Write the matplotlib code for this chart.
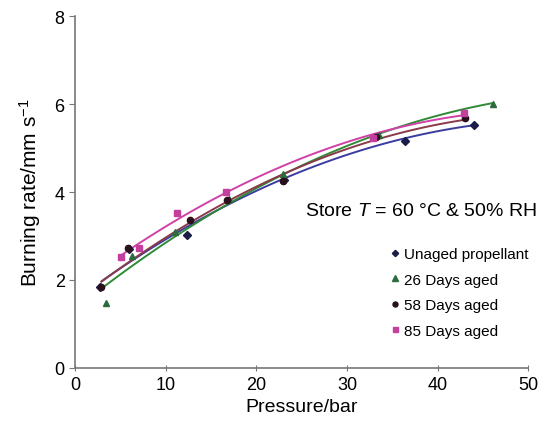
import numpy as np
from matplotlib import pyplot as plt

plt.rcParams['font.family'] = ['Liberation Sans', 'DejaVu Sans']
plt.rcParams['mathtext.fontset'] = 'custom'
plt.rcParams['mathtext.it'] = 'Liberation Sans:italic'
plt.rcParams['mathtext.rm'] = 'Liberation Sans'

p_unaged = [2.8, 5.9, 12.4, 23.0, 36.4, 44.0]
r_unaged = [1.85, 2.70, 3.02, 4.27, 5.17, 5.52]
p_26 = [3.4, 6.3, 11.0, 17.0, 22.9, 33.5, 46.1]
r_26 = [1.48, 2.55, 3.10, 3.85, 4.41, 5.30, 6.01]
p_58 = [2.9, 5.8, 12.7, 16.8, 22.9, 33.2, 43.0]
r_58 = [1.85, 2.73, 3.36, 3.82, 4.26, 5.25, 5.68]
p_85 = [5.1, 7.0, 11.3, 16.7, 32.9, 42.9]
r_85 = [2.52, 2.72, 3.52, 4.00, 5.23, 5.80]

# trend lines at a few pressures
tp_unaged = [2.95, 8.3, 11.6, 24.8, 37.0, 44.2]
tr_unaged = [1.98, 2.67, 3.15, 4.48, 5.20, 5.55]
tp_26 = [3.3, 8.3, 11.6, 24.8, 37.0, 46.1]
tr_26 = [1.87, 2.55, 3.15, 4.51, 5.62, 6.00]
tp_58 = [2.9, 11.6, 24.8, 37.0, 43.0]
tr_58 = [1.92, 3.25, 4.52, 5.39, 5.66]
tp_85 = [5.15, 11.6, 24.8, 37.0, 43.0]
tr_85 = [2.52, 3.50, 4.71, 5.51, 5.77]

series = [
    ('Unaged propellant', p_unaged, r_unaged, tp_unaged, tr_unaged, 'D', '#1c1c48', '#3b3ba0', 4),
    ('26 Days aged', p_26, r_26, tp_26, tr_26, '^', '#2c6b3c', '#2f8a36', 5),
    ('58 Days aged', p_58, r_58, tp_58, tr_58, 'o', '#2a101c', '#8a3a48', 4.5),
    ('85 Days aged', p_85, r_85, tp_85, tr_85, 's', '#c43f9e', '#d040a8', 4.5),
]

fig = plt.figure(figsize=(5.52, 4.27), dpi=100)
ax = fig.add_axes([0.136, 0.136, 0.821, 0.824])

for name, p, r, tp, tr, m, mc, lc, ms in series:
    c = np.polyfit(tp, tr, 2)
    xx = np.linspace(min(tp), max(tp), 100)
    ax.plot(xx, np.polyval(c, xx), color=lc, lw=1.4, zorder=2)
    ax.plot(p, r, ls='none', marker=m, color=mc, ms=ms, label=name, zorder=3)

ax.set_xlim(0, 50)
ax.set_ylim(0, 8)
ax.set_xticks([0, 10, 20, 30, 40, 50])
ax.set_yticks([0, 2, 4, 6, 8])
ax.set_xlabel('Pressure/bar', fontsize=14, labelpad=4)
ax.set_ylabel(r'Burning rate/mm s$^{-1}$', fontsize=15, labelpad=8)
ax.tick_params(labelsize=13, color='#777777', length=4)
ax.tick_params(axis='x', direction='inout')
for s in ['top', 'right']:
    ax.spines[s].set_visible(False)
for s in ['left', 'bottom']:
    ax.spines[s].set_color('#777777')
    ax.spines[s].set_linewidth(1.2)

ax.text(0.508, 0.435, r'Store $T$ = 60 °C & 50% RH', transform=ax.transAxes,
        fontsize=14)
ax.legend(loc='upper left', bbox_to_anchor=(0.68, 0.365), frameon=False,
          fontsize=11, handlelength=0.5, handletextpad=0.35, labelspacing=0.75,
          borderpad=0, markerscale=0.8)

plt.savefig('out.png', dpi=100)
